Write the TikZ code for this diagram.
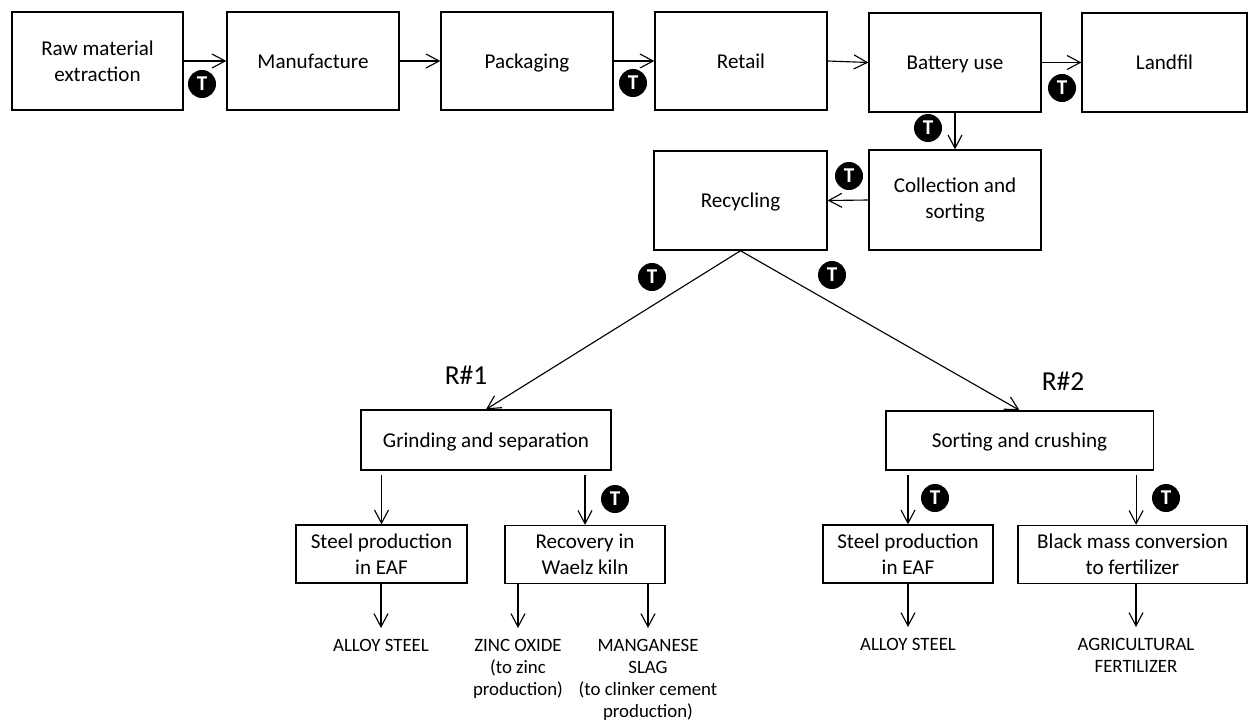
\documentclass[tikz,border=0pt]{standalone}
\usepackage{fontspec}
\setmainfont{Carlito}
\usetikzlibrary{arrows.meta,positioning}
\tikzset{
  blk/.style={draw=black, line width=0.9pt, align=center, inner sep=2pt,
              font=\fontsize{15}{18.4}\selectfont},
  oneline/.style={text height=11.5pt, text depth=1.5pt},
  flowarr/.style={-{Straight Barb[length=3.3mm, width=3.5mm]}, line width=0.8pt},
  tmark/.style={circle, fill=black, text=white, minimum size=0.7cm, inner sep=0pt,
                font=\fontsize{15}{15}\selectfont\bfseries},
  outtxt/.style={align=center, inner sep=0pt, outer sep=0.28cm,
                 font=\fontsize{13.4}{15.6}\selectfont},
  rlab/.style={font=\fontsize{19.5}{20}\selectfont},
}

\begin{document}
\begin{tikzpicture}[x=0.025cm, y=-0.025cm]
  \useasboundingbox (0,0) rectangle (1248,723);
  % life cycle chain
  \node[blk, minimum width=4.28cm, minimum height=2.45cm] (raw) at (97.5,61) {Raw material\\extraction};
  \node[blk, oneline, minimum width=4.3cm, minimum height=2.45cm] (manu) at (313,61) {Manufacture};
  \node[blk, oneline, minimum width=4.3cm, minimum height=2.45cm] (pack) at (527,61) {Packaging};
  \node[blk, oneline, minimum width=4.3cm, minimum height=2.45cm] (retail) at (741,61) {Retail};
  \node[blk, oneline, minimum width=4.3cm, minimum height=2.48cm] (use) at (955,62.5) {Battery use};
  \node[blk, oneline, minimum width=4.12cm, minimum height=2.48cm] (landfil) at (1164.5,62.5) {Landfil};
  \node[blk, minimum width=4.3cm, minimum height=2.5cm] (coll) at (955,200) {Collection and\\sorting};
  \node[blk, oneline, minimum width=4.32cm, minimum height=2.48cm] (recyc) at (740.5,200.5) {Recycling};
  \draw[flowarr] (raw.east) -- (manu.west);
  \draw[flowarr] (manu.east) -- (pack.west);
  \draw[flowarr] (pack.east) -- (retail.west);
  \draw[flowarr] (retail.east) -- (use.west);
  \draw[flowarr] (use.east) -- (landfil.west);
  \draw[flowarr] (use.south) -- (coll.north);
  \draw[flowarr] (coll.west) -- (recyc.east);
  % recycling routes
  \node[blk, oneline, minimum width=6.25cm, minimum height=1.5cm] (grind) at (486,440) {Grinding and separation};
  \node[blk, oneline, minimum width=6.68cm, minimum height=1.48cm] (sortc) at (1019.5,440.5) {Sorting and crushing};
  \node[rlab] (ra) at (466,375) {R\#1};
  \node[rlab] (rb) at (1063,381) {R\#2};
  \draw[flowarr] (recyc.south) -- (grind.north);
  \draw[flowarr] (recyc.south) -- (sortc.north);
  \node[blk, minimum width=4.27cm, minimum height=1.45cm] (steela) at (381.5,554) {Steel production\\in EAF};
  \node[blk, minimum width=4cm, minimum height=1.45cm] (waelz) at (585,554.5) {Recovery in\\Waelz kiln};
  \node[blk, minimum width=4.25cm, minimum height=1.45cm] (steelb) at (908,554) {Steel production\\in EAF};
  \node[blk, minimum width=5.72cm, minimum height=1.45cm] (black) at (1132.5,554.5) {Black mass conversion\\to fertilizer};
  \coordinate (blacktop) at ([xshift=0.09cm]black.north);
  \draw[flowarr] ([yshift=-0.1cm]grind.south -| steela.north) -- (steela.north);
  \draw[flowarr] ([yshift=-0.1cm]grind.south -| waelz.north) -- (waelz.north);
  \draw[flowarr] ([yshift=-0.1cm]sortc.south -| steelb.north) -- (steelb.north);
  \draw[flowarr] ([yshift=-0.1cm]sortc.south -| blacktop) -- (blacktop);
  % products
  \node[outtxt, anchor=north] (alloya) at (381,628) {ALLOY STEEL};
  \node[outtxt, anchor=north] (zinc) at (518,628) {ZINC OXIDE\\(to zinc\\production)};
  \node[outtxt, anchor=north] (mang) at (648,628) {MANGANESE\\SLAG\\(to clinker cement\\production)};
  \node[outtxt, anchor=north] (alloyb) at (908,627) {ALLOY STEEL};
  \node[outtxt, anchor=north] (agri) at (1136,627) {AGRICULTURAL\\FERTILIZER};
  \draw[flowarr] (steela.south -| alloya.north) -- (alloya.north);
  \draw[flowarr] (waelz.south -| zinc.north) -- (zinc.north);
  \draw[flowarr] (waelz.south -| mang.north) -- (mang.north);
  \draw[flowarr] (steelb.south -| alloyb.north) -- (alloyb.north);
  \draw[flowarr] (black.south -| agri.north) -- (agri.north);
  % transport markers
  \node[tmark] (ta) at (202,84) {T};
  \node[tmark] (tb) at (633,83) {T};
  \node[tmark] (tc) at (1062,88) {T};
  \node[tmark] (td) at (928,128) {T};
  \node[tmark] (te) at (849,176) {T};
  \node[tmark] (tf) at (652,277) {T};
  \node[tmark] (tg) at (832,275) {T};
  \node[tmark] (th) at (615,499) {T};
  \node[tmark] (ti) at (935,498) {T};
  \node[tmark] (tj) at (1166,498) {T};
\end{tikzpicture}
\end{document}
